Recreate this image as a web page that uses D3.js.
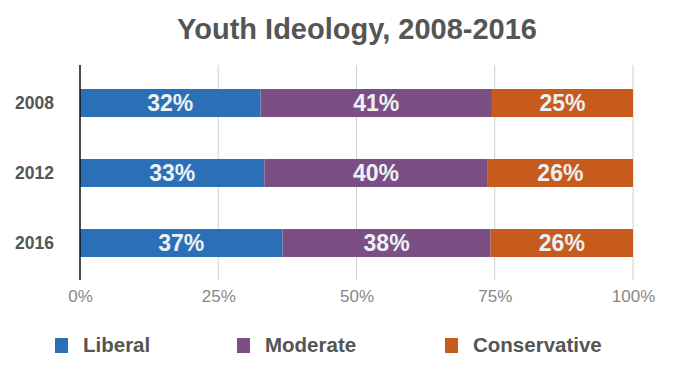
<!DOCTYPE html>
<html><head><meta charset="utf-8">
<script src="https://cdn.jsdelivr.net/npm/d3@7"></script>
<style>html,body{margin:0;padding:0;background:#fff;}svg{display:block;font-family:"Liberation Sans",Arial,sans-serif;}</style>
</head><body>
<svg id="c" width="688" height="382"></svg>
<script>
const years = ["2008", "2012", "2016"];
const seriesNames = ["Liberal", "Moderate", "Conservative"];
const liberal = [32, 33, 37];
const moderate = [41, 40, 38];
const conservative = [25, 26, 26];
const xTicks = [0, 0.25, 0.5, 0.75, 1];
const colors = ["#2b70b6", "#7b4f84", "#c75a1d"];

const rows = years.map((y, i) => ({year: y, Liberal: liberal[i], Moderate: moderate[i], Conservative: conservative[i]}));
const stack = d3.stack().keys(seriesNames).offset(d3.stackOffsetExpand)(rows);

const svg = d3.select("#c");
const x = d3.scaleLinear().domain([0, 1]).range([80, 633]);
const y = d3.scaleBand().domain(years).range([68, 278]).paddingInner(0.6).paddingOuter(0.3);
const color = d3.scaleOrdinal().domain(seriesNames).range(colors);

svg.append("text").attr("x", 357).attr("y", 39).attr("text-anchor", "middle")
  .attr("font-size", 29).attr("font-weight", "bold").attr("fill", "#555")
  .text("Youth Ideology, 2008-2016");

// gridlines
svg.append("g").selectAll("line").data(xTicks.slice(1)).join("line")
  .attr("x1", d => x(d)).attr("x2", d => x(d)).attr("y1", 65).attr("y2", 280)
  .attr("stroke", "#d0d0d0").attr("stroke-width", 1);

// bars
const g = svg.append("g");
stack.forEach(layer => {
  g.append("g").attr("fill", color(layer.key)).selectAll("rect").data(layer).join("rect")
    .attr("x", d => x(d[0])).attr("width", d => x(d[1]) - x(d[0]))
    .attr("y", d => y(d.data.year)).attr("height", y.bandwidth());
  g.append("g").selectAll("text").data(layer).join("text")
    .attr("x", d => (x(d[0]) + x(d[1])) / 2)
    .attr("y", d => y(d.data.year) + y.bandwidth() / 2)
    .attr("dy", "0.36em").attr("text-anchor", "middle")
    .attr("font-size", 23).attr("font-weight", "bold").attr("fill", "#eef1f4")
    .text(d => d.data[layer.key] + "%");
});

// x axis
const xa = svg.append("g").attr("transform", "translate(0,296)")
  .call(d3.axisBottom(x).tickValues(xTicks).tickFormat(d3.format(".0%")).tickSize(0).tickPadding(0));
xa.select(".domain").remove();
xa.selectAll("text").attr("font-size", 17).attr("fill", "#888").attr("dy", "0.35em").attr("font-family", null);

// y axis
const ya = svg.append("g").attr("transform", "translate(54,0)")
  .call(d3.axisLeft(y).tickSize(0).tickPadding(0));
ya.select(".domain").remove();
ya.selectAll("text").attr("font-size", 17.5).attr("font-weight", "bold").attr("fill", "#555").attr("font-family", null);

// baseline axis
svg.append("line").attr("x1", 80).attr("x2", 80).attr("y1", 65).attr("y2", 280)
  .attr("stroke", "#111").attr("stroke-width", 1.5);

// legend
const legX = [55, 237, 445];
const leg = svg.append("g").selectAll("g").data(seriesNames).join("g")
  .attr("transform", (d, i) => `translate(${legX[i]},345)`);
leg.append("rect").attr("x", 0).attr("y", -7).attr("width", 13).attr("height", 15).attr("fill", d => color(d));
leg.append("text").attr("x", 28).attr("dy", "0.36em").attr("font-size", 20.5).attr("font-weight", "bold")
  .attr("fill", "#555").text(d => d);
</script>
</body></html>
